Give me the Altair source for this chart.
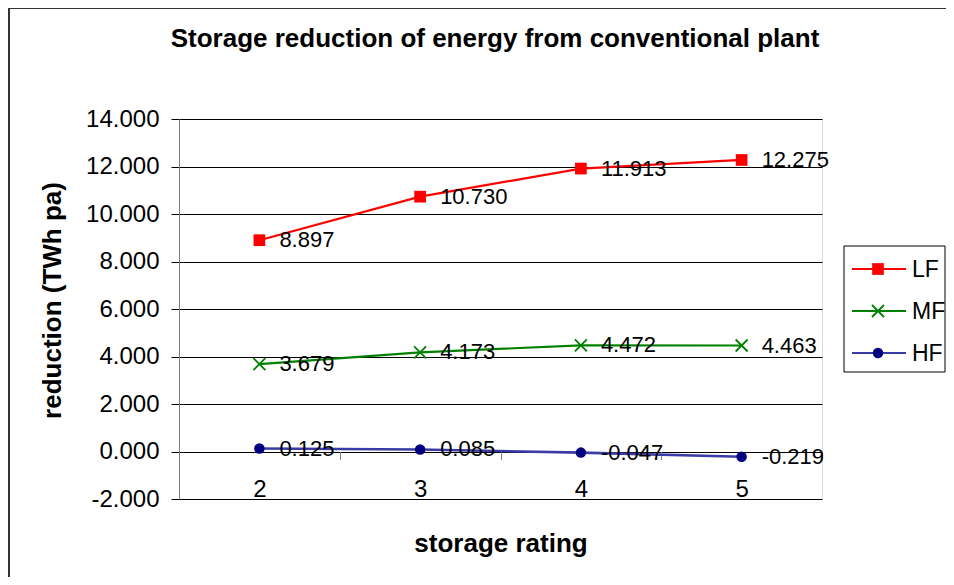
import altair as alt
import pandas as pd

# ---- data ----
ratings = [2, 3, 4, 5]
series_names = ["LF", "MF", "HF"]
lf_values = [8.897, 10.730, 11.913, 12.275]
mf_values = [3.679, 4.173, 4.472, 4.463]
hf_values = [0.125, 0.085, -0.047, -0.219]
y_tick_values = [-2, 0, 2, 4, 6, 8, 10, 12, 14]
chart_title = "Storage reduction of energy from conventional plant"

values_by_series = {"LF": lf_values, "MF": mf_values, "HF": hf_values}
rows = []
for s in series_names:
    for r, v in zip(ratings, values_by_series[s]):
        rows.append({"series": s, "rating": r, "value": v})
df = pd.DataFrame(rows)
legend_df = pd.DataFrame({"name": series_names})
one_row = pd.DataFrame({"k": [0]})
title_df = pd.DataFrame({"t": [chart_title]})

FONT = "Liberation Sans"
W, H = 643, 380
ZERO_Y = H * 14 / 16  # pixel of value 0 inside the plot

line_colors = {"LF": "#FF0000", "MF": "#008000", "HF": "#3B3BA8"}
marker_colors = {"LF": "#FF0000", "MF": "#008000", "HF": "#000080"}
X_PATH = "M-1,-1L1,1M-1,1L1,-1"
marker_defs = {
    "LF": dict(shape="square", filled=True, size=137, strokeWidth=0),
    "MF": dict(shape=X_PATH, filled=False, size=144, strokeWidth=1.8),
    "HF": dict(shape="circle", filled=True, size=110, strokeWidth=0),
}

X = alt.X(
    "rating:O",
    bandPosition=0.5,
    scale=alt.Scale(type="band", paddingInner=0, paddingOuter=0),
    axis=alt.Axis(
        title="storage rating",
        labelAngle=0,
        offset=-(H - ZERO_Y),
        domain=False,
        grid=False,
        tickBand="extent",
        tickSize=8,
        tickColor="#808080",
        labelFontSize=24,
        labelFont=FONT,
        labelColor="black",
        labelPadding=18,
        titleFont=FONT,
        titleFontSize=26,
        titleFontWeight="bold",
        titleColor="black",
        titleY=100,
        titleBaseline="alphabetic",
    ),
)
Y = alt.Y(
    "value:Q",
    scale=alt.Scale(domain=[-2, 14], nice=False, zero=False),
    axis=alt.Axis(
        values=y_tick_values,
        format=".3f",
        title="reduction (TWh pa)",
        labelFontSize=24,
        labelFont=FONT,
        labelColor="black",
        labelPadding=12,
        tickSize=8,
        tickColor="black",
        domainColor="#808080",
        gridColor="black",
        gridOpacity=1,
        gridWidth=1,
        titleFont=FONT,
        titleFontSize=26,
        titleFontWeight="bold",
        titleColor="black",
        titleX=-119,
        titleY=181,
        titleBaseline="alphabetic",
    ),
)

layers = []
for s in series_names:
    base = alt.Chart(df).transform_filter(alt.datum.series == s)
    layers.append(
        base.mark_line(color=line_colors[s], strokeWidth=2.2 if s != "HF" else 2.6).encode(x=X, y=Y)
    )
for s in series_names:
    base = alt.Chart(df).transform_filter(alt.datum.series == s)
    md = marker_defs[s]
    layers.append(
        base.mark_point(
            shape=md["shape"], filled=md["filled"], size=md["size"],
            color=marker_colors[s], strokeWidth=md["strokeWidth"], opacity=1,
        ).encode(x=X, y=Y)
    )
for s in series_names:
    base = alt.Chart(df).transform_filter(alt.datum.series == s)
    layers.append(
        base.mark_text(align="left", baseline="middle", dx=20, fontSize=22,
                       font=FONT, color="black").encode(
            x=X, y=Y, text=alt.Text("value:Q", format=".3f")
        )
    )

# ---- chart title ----
layers.append(
    alt.Chart(title_df).mark_text(align="center", baseline="alphabetic", fontSize=26,
                                  fontWeight="bold", font=FONT, color="black").encode(
        x=alt.value(316), y=alt.value(-72), text="t:N"
    )
)

# ---- outer border (top and left edges visible) ----
layers.append(
    alt.Chart(one_row).mark_rule(color="#333333", strokeWidth=2).encode(
        x=alt.value(-170), x2=alt.value(800), y=alt.value(-111)
    )
)
layers.append(
    alt.Chart(one_row).mark_rule(color="#333333", strokeWidth=2).encode(
        x=alt.value(-170), y=alt.value(-111), y2=alt.value(500)
    )
)

# ---- legend ----
layers.append(
    alt.Chart(one_row).mark_rect(fill="white", stroke="black", strokeWidth=1).encode(
        x=alt.value(665), x2=alt.value(766), y=alt.value(127), y2=alt.value(253)
    )
)
for i, s in enumerate(series_names):
    ly = 150 + 42 * i
    lb = alt.Chart(legend_df).transform_filter(alt.datum.name == s)
    layers.append(
        lb.mark_rule(color=line_colors[s], strokeWidth=2.2).encode(
            x=alt.value(673), x2=alt.value(727), y=alt.value(ly)
        )
    )
    md = marker_defs[s]
    layers.append(
        lb.mark_point(
            shape=md["shape"], filled=md["filled"], size=md["size"],
            color=marker_colors[s], strokeWidth=md["strokeWidth"], opacity=1,
        ).encode(x=alt.value(699), y=alt.value(ly))
    )
    layers.append(
        lb.mark_text(align="left", baseline="middle", fontSize=23, font=FONT,
                     color="black").encode(
            x=alt.value(733), y=alt.value(ly + 1), text="name:N"
        )
    )

chart = (
    alt.layer(*layers)
    .properties(
        width=W,
        height=H,
        padding={"left": 171, "top": 111, "right": 124, "bottom": 78},
        autosize=alt.AutoSizeParams(type="none"),
    )
    .configure_view(stroke="transparent")
    .configure(
        background="white",
        locale={"number": {"decimal": ".", "thousands": ",", "grouping": [3],
                           "currency": ["$", ""], "minus": "-"}},
    )
)

chart.save("out.html", embed_options={"renderer": "svg", "actions": False})
